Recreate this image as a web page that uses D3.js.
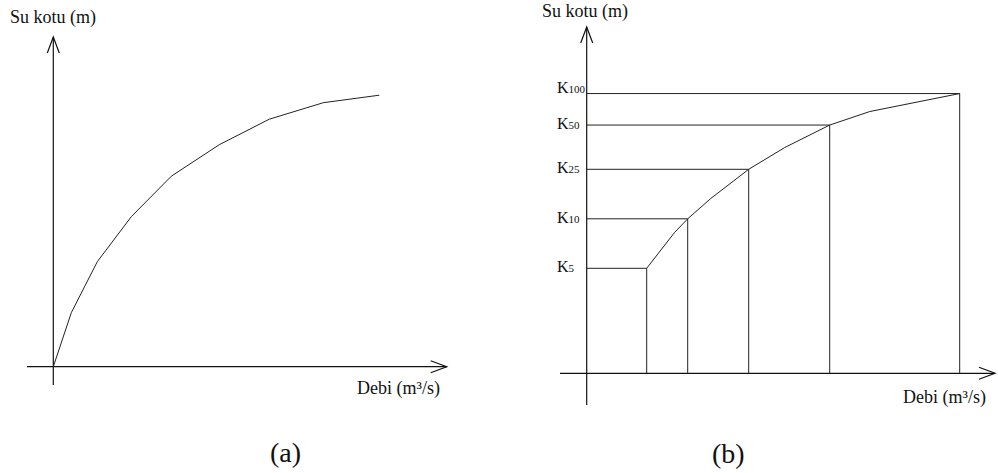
<!DOCTYPE html>
<html>
<head>
<meta charset="utf-8">
<script src="https://cdnjs.cloudflare.com/ajax/libs/d3/7.8.5/d3.min.js"></script>
<style>
    body { margin: 0; background: #fff; }
    svg { display: block; }
    text { font-family: "Liberation Serif", "Times New Roman", serif; fill: #111; }
    .line { fill: none; stroke: #222; stroke-width: 1; }
    .axis { fill: none; stroke: #111; stroke-width: 1.2; }
</style>
</head>
<body>
<svg id="chart"></svg>
<script>
/***** Data *****/
// (a) rating curve: discharge vs water level (arbitrary units, no ticks in source)
var flowA = [0, 4.5, 11, 19.5, 29.5, 41.5, 54, 67.5, 81.5];
var levelA = [0, 18, 35, 50, 63.5, 74, 82.5, 88, 90.5];

// (b) same curve with the return period levels marked
var flowB = [15, 22, 25.25, 31, 40.5, 49.5, 60.75, 70.75, 93.25];
var levelB = [35, 47, 51.5, 58.25, 68, 75.25, 82.75, 87.25, 93.25];

var returnPeriods = ["5", "10", "25", "50", "100"];
var rpFlow = [15, 25.25, 40.5, 60.75, 93.25];
var rpLevel = [35, 51.5, 68, 82.75, 93.25];

var yLabel = "Su kotu (m)";
var xLabel = "Debi (m³/s)";
var panelLabels = ["(a)", "(b)"];

(function (d3) {

    var width = 998;
    var height = 473;

    var svg = d3.select("#chart")
                .attr("width", width)
                .attr("height", height);

    /***** Scales *****/
    var xA = d3.scaleLinear().domain([0, 100]).range([53.3, 453.3]);
    var yA = d3.scaleLinear().domain([0, 100]).range([366.7, 66.7]);

    var xB = d3.scaleLinear().domain([0, 100]).range([586.7, 986.7]);
    var yB = d3.scaleLinear().domain([0, 100]).range([373.3, 73.3]);

    /***** Helpers *****/
    function drawAxes(g, x0, y0, xStart, xEnd, yTop, yBottom) {
        // horizontal axis with open arrow head
        g.append("line").attr("class", "axis")
         .attr("x1", xStart).attr("y1", y0).attr("x2", xEnd).attr("y2", y0);
        g.append("path").attr("class", "axis")
         .attr("d", "M" + (xEnd - 16) + "," + (y0 - 6) + "L" + xEnd + "," + y0 + "L" + (xEnd - 16) + "," + (y0 + 6));
        // vertical axis
        g.append("line").attr("class", "axis")
         .attr("x1", x0).attr("y1", yBottom).attr("x2", x0).attr("y2", yTop);
        g.append("path").attr("class", "axis")
         .attr("d", "M" + (x0 - 6) + "," + (yTop + 16) + "L" + x0 + "," + yTop + "L" + (x0 + 6) + "," + (yTop + 16));
    }

    function curve(flow, level, x, y) {
        var pts = flow.map(function (q, i) { return [x(q), y(level[i])]; });
        return d3.line()(pts);
    }

    /***** Chart (a) *****/
    var gA = svg.append("g");
    drawAxes(gA, xA(0), yA(0), 27, 446.7, 37, 385);

    gA.append("path")
      .attr("class", "line")
      .attr("d", curve(flowA, levelA, xA, yA));

    gA.append("text").attr("x", 10).attr("y", 23)
      .style("font-size", "18px").text(yLabel);
    gA.append("text").attr("x", 357).attr("y", 394)
      .style("font-size", "18px").text(xLabel);
    gA.append("text").attr("x", 270).attr("y", 462)
      .style("font-size", "28px").text(panelLabels[0]);

    /***** Chart (b) *****/
    var gB = svg.append("g");
    drawAxes(gB, xB(0), yB(0), 560, 995, 27, 405);

    // horizontal guides from the y axis to the curve
    gB.selectAll(".hguide")
      .data(returnPeriods)
      .enter().append("line")
      .attr("class", "line hguide")
      .attr("x1", xB(0))
      .attr("x2", function (d, i) { return xB(rpFlow[i]); })
      .attr("y1", function (d, i) { return yB(rpLevel[i]); })
      .attr("y2", function (d, i) { return yB(rpLevel[i]); });

    // vertical guides from the curve down to the x axis
    gB.selectAll(".vguide")
      .data(returnPeriods)
      .enter().append("line")
      .attr("class", "line vguide")
      .attr("x1", function (d, i) { return xB(rpFlow[i]); })
      .attr("x2", function (d, i) { return xB(rpFlow[i]); })
      .attr("y1", function (d, i) { return yB(rpLevel[i]); })
      .attr("y2", yB(0));

    gB.append("path")
      .attr("class", "line")
      .attr("d", curve(flowB, levelB, xB, yB));

    // K labels with small subscripts
    var kLabels = gB.selectAll(".klabel")
      .data(returnPeriods)
      .enter().append("text")
      .attr("class", "klabel")
      .attr("x", 557)
      .attr("y", function (d, i) { return yB(rpLevel[i]) + (i === 4 ? -1 : 4); });
    kLabels.append("tspan").style("font-size", "16px").text("K");
    kLabels.append("tspan").style("font-size", "11px").text(function (d) { return d; });

    gB.append("text").attr("x", 542).attr("y", 17)
      .style("font-size", "18px").text(yLabel);
    gB.append("text").attr("x", 903).attr("y", 403)
      .style("font-size", "18px").text(xLabel);
    gB.append("text").attr("x", 712).attr("y", 463)
      .style("font-size", "28px").text(panelLabels[1]);

})(d3);
</script>
</body>
</html>
